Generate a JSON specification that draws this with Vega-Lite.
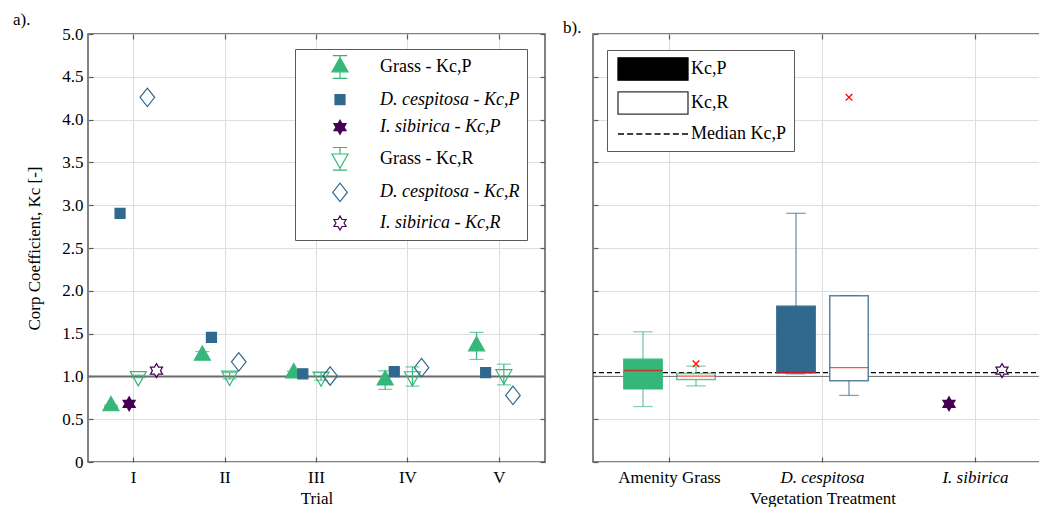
{
  "$schema": "https://vega.github.io/schema/vega-lite/v6.json",
  "background": "white",
  "padding": {"left": 12, "top": 10, "right": 0, "bottom": 0},
  "datasets": {
    "trials": [
      {"trial": "I", "species": "Grass", "coef": "Kc,P", "kc": 0.655, "lo": 0.645, "hi": 0.665},
      {"trial": "II", "species": "Grass", "coef": "Kc,P", "kc": 1.245, "lo": 1.2, "hi": 1.29},
      {"trial": "III", "species": "Grass", "coef": "Kc,P", "kc": 1.04, "lo": 1.02, "hi": 1.06},
      {"trial": "IV", "species": "Grass", "coef": "Kc,P", "kc": 0.956, "lo": 0.848, "hi": 1.065},
      {"trial": "V", "species": "Grass", "coef": "Kc,P", "kc": 1.355, "lo": 1.198, "hi": 1.514},
      {"trial": "I", "species": "D. cespitosa", "coef": "Kc,P", "kc": 2.905},
      {"trial": "II", "species": "D. cespitosa", "coef": "Kc,P", "kc": 1.455},
      {"trial": "III", "species": "D. cespitosa", "coef": "Kc,P", "kc": 1.03},
      {"trial": "IV", "species": "D. cespitosa", "coef": "Kc,P", "kc": 1.055},
      {"trial": "V", "species": "D. cespitosa", "coef": "Kc,P", "kc": 1.045},
      {"trial": "I", "species": "I. sibirica", "coef": "Kc,P", "kc": 0.68},
      {"trial": "I", "species": "Grass", "coef": "Kc,R", "kc": 1.0, "lo": 0.985, "hi": 1.015},
      {"trial": "II", "species": "Grass", "coef": "Kc,R", "kc": 1.005, "lo": 0.97, "hi": 1.045},
      {"trial": "III", "species": "Grass", "coef": "Kc,R", "kc": 0.995, "lo": 0.955, "hi": 1.045},
      {"trial": "IV", "species": "Grass", "coef": "Kc,R", "kc": 0.998, "lo": 0.886, "hi": 1.111},
      {"trial": "V", "species": "Grass", "coef": "Kc,R", "kc": 1.022, "lo": 0.901, "hi": 1.143},
      {"trial": "I", "species": "D. cespitosa", "coef": "Kc,R", "kc": 4.26},
      {"trial": "II", "species": "D. cespitosa", "coef": "Kc,R", "kc": 1.17},
      {"trial": "III", "species": "D. cespitosa", "coef": "Kc,R", "kc": 1.005},
      {"trial": "IV", "species": "D. cespitosa", "coef": "Kc,R", "kc": 1.102},
      {"trial": "V", "species": "D. cespitosa", "coef": "Kc,R", "kc": 0.778},
      {"trial": "I", "species": "I. sibirica", "coef": "Kc,R", "kc": 1.067}
    ],
    "boxes": [
      {"treatment": "Amenity Grass", "coef": "Kc,P", "low": 0.648, "q1": 0.854, "median": 1.069, "q3": 1.201, "high": 1.521},
      {"treatment": "Amenity Grass", "coef": "Kc,R", "low": 0.889, "q1": 0.964, "median": 1.003, "q3": 1.034, "high": 1.12},
      {"treatment": "D. cespitosa", "coef": "Kc,P", "low": 1.03, "q1": 1.041, "median": 1.045, "q3": 1.82, "high": 2.905},
      {"treatment": "D. cespitosa", "coef": "Kc,R", "low": 0.778, "q1": 0.948, "median": 1.102, "q3": 1.943, "high": 1.943}
    ],
    "outliers": [
      {"treatment": "Amenity Grass", "coef": "Kc,R", "value": 1.147},
      {"treatment": "D. cespitosa", "coef": "Kc,R", "value": 4.26}
    ]
  },
  "spacing": 15,
  "hconcat": [
    {
      "width": 457,
      "height": 428,
      "title": {"text": "a).", "anchor": "start", "frame": "group", "dx": -75, "offset": -4},
      "layer": [
        {
          "data": {"name": "trials"},
          "transform": [{"calculate": "datum.species + ' - ' + datum.coef", "as": "series"}],
          "layer": [
            {
              "data": {"values": [{"ref": 1}]},
              "mark": {"type": "rule", "stroke": "#6b6b6b", "strokeWidth": 2},
              "encoding": {"y": {"field": "ref", "type": "quantitative"}}
            },
            {
              "transform": [{"filter": "isValid(datum.lo)"}],
              "mark": {"type": "rule", "stroke": "#35b779", "strokeWidth": 1.2},
              "encoding": {
                "x": {"field": "trial", "type": "nominal", "scale": {"type": "band", "domain": ["I", "II", "III", "IV", "V"], "paddingInner": 0, "paddingOuter": 0}},
                "xOffset": {"field": "series", "type": "nominal", "scale": {"type": "point", "domain": ["Grass - Kc,P", "D. cespitosa - Kc,P", "I. sibirica - Kc,P", "Grass - Kc,R", "D. cespitosa - Kc,R", "I. sibirica - Kc,R"], "range": [22.95, 68.45], "padding": 0}},
                "y": {"field": "lo", "type": "quantitative"},
                "y2": {"field": "hi"}
              }
            },
            {
              "transform": [{"filter": "isValid(datum.lo)"}, {"fold": ["lo", "hi"], "as": ["end", "bound"]}],
              "mark": {"type": "tick", "color": "#35b779", "size": 14, "thickness": 1.2},
              "encoding": {
                "x": {"field": "trial", "type": "nominal", "scale": {"type": "band", "domain": ["I", "II", "III", "IV", "V"], "paddingInner": 0, "paddingOuter": 0}},
                "xOffset": {"field": "series", "type": "nominal", "scale": {"type": "point", "domain": ["Grass - Kc,P", "D. cespitosa - Kc,P", "I. sibirica - Kc,P", "Grass - Kc,R", "D. cespitosa - Kc,R", "I. sibirica - Kc,R"], "range": [22.95, 68.45], "padding": 0}},
                "y": {"field": "bound", "type": "quantitative"}
              }
            },
            {
              "mark": {"type": "point", "filled": true, "size": 400, "opacity": 1, "strokeWidth": 1.2},
              "encoding": {
                "x": {"field": "trial", "type": "nominal", "scale": {"type": "band", "domain": ["I", "II", "III", "IV", "V"], "paddingInner": 0, "paddingOuter": 0},
                  "axis": {"title": "Trial", "grid": true, "bandPosition": 0.5, "labelAngle": 0, "labelAlign": "center", "labelPadding": 20, "titlePadding": 5}},
                "xOffset": {"field": "series", "type": "nominal", "scale": {"type": "point", "domain": ["Grass - Kc,P", "D. cespitosa - Kc,P", "I. sibirica - Kc,P", "Grass - Kc,R", "D. cespitosa - Kc,R", "I. sibirica - Kc,R"], "range": [22.95, 68.45], "padding": 0}},
                "y": {"field": "kc", "type": "quantitative", "scale": {"domain": [0, 5], "nice": false, "zero": false},
                  "axis": {"title": "Corp Coefficient, Kc [-]", "values": [0, 0.5, 1, 1.5, 2, 2.5, 3, 3.5, 4, 4.5, 5], "labelExpr": "datum.value == 0 ? '0' : format(datum.value, '.1f')", "grid": true, "labelPadding": 10, "titlePadding": 18}},
                "shape": {"field": "series", "type": "nominal", "legend": null,
                  "scale": {"domain": ["Grass - Kc,P", "D. cespitosa - Kc,P", "I. sibirica - Kc,P", "Grass - Kc,R", "D. cespitosa - Kc,R", "I. sibirica - Kc,R"],
                    "range": [
                      "M0,-0.95L0.8,0.48L-0.8,0.48Z",
                      "M-0.5,-0.5H0.5V0.5H-0.5Z",
                      "M0,-0.7L0.202,-0.35L0.606,-0.35L0.404,0L0.606,0.35L0.202,0.35L0,0.7L-0.202,0.35L-0.606,0.35L-0.404,0L-0.606,-0.35L-0.202,-0.35Z",
                      "M0,0.95L0.8,-0.48L-0.8,-0.48Z",
                      "M0,-0.92L0.73,0L0,0.92L-0.73,0Z",
                      "M0,-0.7L0.202,-0.35L0.606,-0.35L0.404,0L0.606,0.35L0.202,0.35L0,0.7L-0.202,0.35L-0.606,0.35L-0.404,0L-0.606,-0.35L-0.202,-0.35Z"
                    ]}},
                "fill": {"field": "series", "type": "nominal", "legend": null,
                  "scale": {"domain": ["Grass - Kc,P", "D. cespitosa - Kc,P", "I. sibirica - Kc,P", "Grass - Kc,R", "D. cespitosa - Kc,R", "I. sibirica - Kc,R"],
                    "range": ["#35b779", "#31688e", "#440154", "transparent", "transparent", "transparent"]}},
                "stroke": {"field": "series", "type": "nominal", "legend": null,
                  "scale": {"domain": ["Grass - Kc,P", "D. cespitosa - Kc,P", "I. sibirica - Kc,P", "Grass - Kc,R", "D. cespitosa - Kc,R", "I. sibirica - Kc,R"],
                    "range": ["#35b779", "#31688e", "#440154", "#35b779", "#31688e", "#440154"]}}
              }
            }
          ]
        },
        {
          "data": {"values": []},
          "mark": {"type": "point", "filled": true, "size": 400, "opacity": 1, "strokeWidth": 1.2},
          "encoding": {
            "x": {"field": "trial", "type": "nominal", "scale": {"type": "band", "domain": ["I", "II", "III", "IV", "V"], "paddingInner": 0, "paddingOuter": 0},
              "axis": {"orient": "top", "labels": false, "title": null, "grid": false, "bandPosition": 0.5}},
            "y": {"field": "kc", "type": "quantitative", "scale": {"domain": [0, 5], "nice": false, "zero": false},
              "axis": {"orient": "right", "labels": false, "title": null, "grid": false, "values": [0, 0.5, 1, 1.5, 2, 2.5, 3, 3.5, 4, 4.5, 5]}},
            "shape": {"field": "series", "type": "nominal",
              "scale": {"domain": ["Grass - Kc,P", "D. cespitosa - Kc,P", "I. sibirica - Kc,P", "Grass - Kc,R", "D. cespitosa - Kc,R", "I. sibirica - Kc,R"],
                "range": [
                  "M0,-0.95L0.8,0.48L-0.8,0.48Z M0,-1.13V-0.95 M0,0.48V1.13 M-0.72,-1.13H0.72 M-0.72,1.13H0.72",
                  "M-0.5,-0.5H0.5V0.5H-0.5Z",
                  "M0,-0.7L0.202,-0.35L0.606,-0.35L0.404,0L0.606,0.35L0.202,0.35L0,0.7L-0.202,0.35L-0.606,0.35L-0.404,0L-0.606,-0.35L-0.202,-0.35Z",
                  "M0,0.95L0.8,-0.48L-0.8,-0.48Z M0,-1.13V-0.48 M0,0.95V1.13 M-0.72,-1.13H0.72 M-0.72,1.13H0.72",
                  "M0,-0.92L0.73,0L0,0.92L-0.73,0Z",
                  "M0,-0.7L0.202,-0.35L0.606,-0.35L0.404,0L0.606,0.35L0.202,0.35L0,0.7L-0.202,0.35L-0.606,0.35L-0.404,0L-0.606,-0.35L-0.202,-0.35Z"
                ]},
              "legend": {"orient": "none", "legendX": 207, "legendY": 15, "direction": "vertical", "title": null,
                "padding": 7, "symbolOffset": 27, "labelOffset": 29, "rowPadding": 7.6, "labelLimit": 400, "labelFontSize": 18,
                "strokeColor": "#5a5a5a", "fillColor": "#ffffff", "symbolSize": 400, "symbolStrokeWidth": 1.2,
                "labelFontStyle": {"expr": "indexof(datum.label, '.') > 0 ? 'italic' : 'normal'"}}},
            "fill": {"field": "series", "type": "nominal",
              "scale": {"domain": ["Grass - Kc,P", "D. cespitosa - Kc,P", "I. sibirica - Kc,P", "Grass - Kc,R", "D. cespitosa - Kc,R", "I. sibirica - Kc,R"],
                "range": ["#35b779", "#31688e", "#440154", "transparent", "transparent", "transparent"]}},
            "stroke": {"field": "series", "type": "nominal",
              "scale": {"domain": ["Grass - Kc,P", "D. cespitosa - Kc,P", "I. sibirica - Kc,P", "Grass - Kc,R", "D. cespitosa - Kc,R", "I. sibirica - Kc,R"],
                "range": ["#35b779", "#31688e", "#440154", "#35b779", "#31688e", "#440154"]}}
          }
        }
      ],
      "resolve": {"scale": {"shape": "independent", "fill": "independent", "stroke": "independent"}, "axis": {"x": "independent", "y": "independent"}}
    },
    {
      "width": 459,
      "height": 428,
      "title": {"text": "b).", "anchor": "start", "frame": "group", "dx": -30, "offset": -4},
      "layer": [
        {
          "layer": [
            {
              "data": {"values": [{"ref": 1}]},
              "mark": {"type": "rule", "stroke": "#6e6e6e", "strokeWidth": 1},
              "encoding": {"y": {"field": "ref", "type": "quantitative", "scale": {"domain": [0, 5], "nice": false, "zero": false},
                "axis": {"title": null, "labels": false, "values": [0, 0.5, 1, 1.5, 2, 2.5, 3, 3.5, 4, 4.5, 5], "grid": true}}}
            },
            {
              "data": {"name": "trials"},
              "transform": [{"filter": "datum.coef == 'Kc,P'"}, {"aggregate": [{"op": "median", "field": "kc", "as": "medianP"}]}],
              "mark": {"type": "rule", "stroke": "#000000", "strokeWidth": 1.2, "strokeDash": [5, 3]},
              "encoding": {"y": {"field": "medianP", "type": "quantitative"}}
            },
            {
              "data": {"name": "boxes"},
              "transform": [{"filter": "datum.coef == 'Kc,P'"}],
              "mark": {"type": "rule", "strokeWidth": 1.3, "strokeOpacity": 0.7, "xOffset": -26.5},
              "encoding": {
                "x": {"field": "treatment", "type": "nominal", "scale": {"type": "band", "domain": ["Amenity Grass", "D. cespitosa", "I. sibirica"], "paddingInner": 0, "paddingOuter": 0}},
                "y": {"field": "low", "type": "quantitative"},
                "y2": {"field": "high"},
                "stroke": {"field": "treatment", "type": "nominal", "legend": null, "scale": {"domain": ["Amenity Grass", "D. cespitosa", "I. sibirica"], "range": ["#35b779", "#31688e", "#440154"]}}
              }
            },
            {
              "data": {"name": "boxes"},
              "transform": [{"filter": "datum.coef == 'Kc,R'"}],
              "mark": {"type": "rule", "strokeWidth": 1.3, "strokeOpacity": 0.7, "xOffset": 26.5},
              "encoding": {
                "x": {"field": "treatment", "type": "nominal", "scale": {"type": "band", "domain": ["Amenity Grass", "D. cespitosa", "I. sibirica"], "paddingInner": 0, "paddingOuter": 0}},
                "y": {"field": "low", "type": "quantitative"},
                "y2": {"field": "high"},
                "stroke": {"field": "treatment", "type": "nominal", "legend": null, "scale": {"domain": ["Amenity Grass", "D. cespitosa", "I. sibirica"], "range": ["#35b779", "#31688e", "#440154"]}}
              }
            },
            {
              "data": {"name": "boxes"},
              "transform": [{"filter": "datum.coef == 'Kc,P'"}, {"fold": ["low", "high"], "as": ["end", "whisker"]}],
              "mark": {"type": "tick", "size": 19.5, "thickness": 1.3, "opacity": 0.6, "xOffset": -26.5},
              "encoding": {
                "x": {"field": "treatment", "type": "nominal", "scale": {"type": "band", "domain": ["Amenity Grass", "D. cespitosa", "I. sibirica"], "paddingInner": 0, "paddingOuter": 0}},
                "y": {"field": "whisker", "type": "quantitative"},
                "color": {"field": "treatment", "type": "nominal", "legend": null, "scale": {"domain": ["Amenity Grass", "D. cespitosa", "I. sibirica"], "range": ["#35b779", "#31688e", "#440154"]}}
              }
            },
            {
              "data": {"name": "boxes"},
              "transform": [{"filter": "datum.coef == 'Kc,R'"}, {"fold": ["low", "high"], "as": ["end", "whisker"]}],
              "mark": {"type": "tick", "size": 19.5, "thickness": 1.3, "opacity": 0.6, "xOffset": 26.5},
              "encoding": {
                "x": {"field": "treatment", "type": "nominal", "scale": {"type": "band", "domain": ["Amenity Grass", "D. cespitosa", "I. sibirica"], "paddingInner": 0, "paddingOuter": 0}},
                "y": {"field": "whisker", "type": "quantitative"},
                "color": {"field": "treatment", "type": "nominal", "legend": null, "scale": {"domain": ["Amenity Grass", "D. cespitosa", "I. sibirica"], "range": ["#35b779", "#31688e", "#440154"]}}
              }
            },
            {
              "data": {"name": "boxes"},
              "transform": [{"filter": "datum.coef == 'Kc,P'"}],
              "mark": {"type": "bar", "width": 38.5, "strokeWidth": 1.2, "xOffset": -26.5},
              "encoding": {
                "x": {"field": "treatment", "type": "nominal", "scale": {"type": "band", "domain": ["Amenity Grass", "D. cespitosa", "I. sibirica"], "paddingInner": 0, "paddingOuter": 0}},
                "y": {"field": "q1", "type": "quantitative"},
                "y2": {"field": "q3"},
                "fill": {"field": "treatment", "type": "nominal", "legend": null, "scale": {"domain": ["Amenity Grass", "D. cespitosa", "I. sibirica"], "range": ["#35b779", "#31688e", "#440154"]}},
                "stroke": {"field": "treatment", "type": "nominal", "legend": null, "scale": {"domain": ["Amenity Grass", "D. cespitosa", "I. sibirica"], "range": ["#35b779", "#31688e", "#440154"]}}
              }
            },
            {
              "data": {"name": "boxes"},
              "transform": [{"filter": "datum.coef == 'Kc,R'"}],
              "mark": {"type": "bar", "width": 38.5, "fill": "#ffffff", "strokeWidth": 1.5, "strokeOpacity": 0.8, "xOffset": 26.5},
              "encoding": {
                "x": {"field": "treatment", "type": "nominal", "scale": {"type": "band", "domain": ["Amenity Grass", "D. cespitosa", "I. sibirica"], "paddingInner": 0, "paddingOuter": 0}},
                "y": {"field": "q1", "type": "quantitative"},
                "y2": {"field": "q3"},
                "stroke": {"field": "treatment", "type": "nominal", "legend": null, "scale": {"domain": ["Amenity Grass", "D. cespitosa", "I. sibirica"], "range": ["#35b779", "#31688e", "#440154"]}}
              }
            },
            {
              "data": {"name": "boxes"},
              "transform": [{"filter": "datum.coef == 'Kc,P'"}],
              "mark": {"type": "tick", "color": "#ff0000", "size": 38.5, "thickness": 1.4, "xOffset": -26.5},
              "encoding": {
                "x": {"field": "treatment", "type": "nominal", "scale": {"type": "band", "domain": ["Amenity Grass", "D. cespitosa", "I. sibirica"], "paddingInner": 0, "paddingOuter": 0}},
                "y": {"field": "median", "type": "quantitative"}
              }
            },
            {
              "data": {"name": "boxes"},
              "transform": [{"filter": "datum.coef == 'Kc,R'"}],
              "mark": {"type": "tick", "color": "#ff0000", "size": 38.5, "thickness": 1.4, "xOffset": 26.5},
              "encoding": {
                "x": {"field": "treatment", "type": "nominal", "scale": {"type": "band", "domain": ["Amenity Grass", "D. cespitosa", "I. sibirica"], "paddingInner": 0, "paddingOuter": 0}},
                "y": {"field": "median", "type": "quantitative"}
              }
            },
            {
              "data": {"name": "outliers"},
              "mark": {"type": "point", "shape": "M-0.33,-0.33L0.33,0.33M-0.33,0.33L0.33,-0.33", "size": 400, "filled": false, "stroke": "#ff0000", "strokeWidth": 1.3, "opacity": 1, "xOffset": 26.5},
              "encoding": {
                "x": {"field": "treatment", "type": "nominal", "scale": {"type": "band", "domain": ["Amenity Grass", "D. cespitosa", "I. sibirica"], "paddingInner": 0, "paddingOuter": 0}},
                "y": {"field": "value", "type": "quantitative"}
              }
            },
            {
              "data": {"name": "trials"},
              "transform": [{"filter": "datum.species == 'I. sibirica' && datum.coef == 'Kc,P'"}],
              "mark": {"type": "point", "shape": "M0,-0.7L0.202,-0.35L0.606,-0.35L0.404,0L0.606,0.35L0.202,0.35L0,0.7L-0.202,0.35L-0.606,0.35L-0.404,0L-0.606,-0.35L-0.202,-0.35Z", "size": 400, "filled": true, "fill": "#440154", "stroke": "#440154", "strokeWidth": 1.2, "opacity": 1, "xOffset": -26.5},
              "encoding": {
                "x": {"field": "species", "type": "nominal", "scale": {"type": "band", "domain": ["Amenity Grass", "D. cespitosa", "I. sibirica"], "paddingInner": 0, "paddingOuter": 0},
                  "axis": {"title": "Vegetation Treatment", "grid": true, "bandPosition": 0.5, "labelAngle": 0, "labelAlign": "center", "labelPadding": 20, "titlePadding": 5,
                    "labelFontStyle": {"expr": "datum.value == 'Amenity Grass' ? 'normal' : 'italic'"}}},
                "y": {"field": "kc", "type": "quantitative"}
              }
            },
            {
              "data": {"name": "trials"},
              "transform": [{"filter": "datum.species == 'I. sibirica' && datum.coef == 'Kc,R'"}],
              "mark": {"type": "point", "shape": "M0,-0.7L0.202,-0.35L0.606,-0.35L0.404,0L0.606,0.35L0.202,0.35L0,0.7L-0.202,0.35L-0.606,0.35L-0.404,0L-0.606,-0.35L-0.202,-0.35Z", "size": 400, "filled": true, "fill": "transparent", "stroke": "#440154", "strokeWidth": 1.2, "opacity": 1, "xOffset": 26.5},
              "encoding": {
                "x": {"field": "species", "type": "nominal", "scale": {"type": "band", "domain": ["Amenity Grass", "D. cespitosa", "I. sibirica"], "paddingInner": 0, "paddingOuter": 0}},
                "y": {"field": "kc", "type": "quantitative"}
              }
            }
          ]
        },
        {
          "data": {"values": []},
          "mark": {"type": "point", "filled": true, "size": 400, "opacity": 1, "strokeWidth": 1.3},
          "encoding": {
            "x": {"field": "treatment", "type": "nominal", "scale": {"type": "band", "domain": ["Amenity Grass", "D. cespitosa", "I. sibirica"], "paddingInner": 0, "paddingOuter": 0},
              "axis": {"orient": "top", "labels": false, "title": null, "grid": false, "bandPosition": 0.5}},
            "shape": {"field": "key", "type": "nominal",
              "scale": {"domain": ["Kc,P", "Kc,R", "Median Kc,P"],
                "range": [
                  "M-3.5,-1.12H3.5V1.12H-3.5Z",
                  "M-3.5,-1.12H3.5V1.12H-3.5Z",
                  "M-3.5,0H-2.9M-2.586,0H-1.986M-1.671,0H-1.071M-0.757,0H-0.157M0.157,0H0.757M1.071,0H1.671M1.986,0H2.586M2.9,0H3.5"
                ]},
              "legend": {"orient": "none", "legendX": 14, "legendY": 16, "direction": "vertical", "title": null,
                "padding": 8, "symbolOffset": 27, "labelOffset": 27, "rowPadding": 6, "labelLimit": 300, "labelFontSize": 18,
                "strokeColor": "#5a5a5a", "fillColor": "#ffffff", "symbolSize": 400, "symbolStrokeWidth": 1.3}},
            "fill": {"field": "key", "type": "nominal", "scale": {"domain": ["Kc,P", "Kc,R", "Median Kc,P"], "range": ["#000000", "#ffffff", "transparent"]}},
            "stroke": {"field": "key", "type": "nominal", "scale": {"domain": ["Kc,P", "Kc,R", "Median Kc,P"], "range": ["#000000", "#333333", "#000000"]}}
          }
        }
      ],
      "resolve": {"scale": {"shape": "independent", "fill": "independent", "stroke": "independent"}, "axis": {"x": "independent", "y": "independent"}}
    }
  ],
  "config": {
    "font": "Liberation Serif",
    "view": {"stroke": "#5a5a5a", "strokeWidth": 1.5},
    "title": {"font": "Liberation Serif", "fontSize": 17, "fontWeight": "normal", "color": "#000000"},
    "axis": {
      "labelFont": "Liberation Serif", "titleFont": "Liberation Serif",
      "labelFontSize": 17, "titleFontSize": 17, "titleFontWeight": "normal",
      "labelColor": "#000000", "titleColor": "#000000",
      "gridColor": "#dedede", "gridWidth": 1,
      "tickColor": "#5a5a5a", "tickSize": -5, "tickWidth": 1.2,
      "domain": false
    },
    "legend": {"labelFont": "Liberation Serif", "labelFontSize": 17, "labelColor": "#000000"}
  }
}
